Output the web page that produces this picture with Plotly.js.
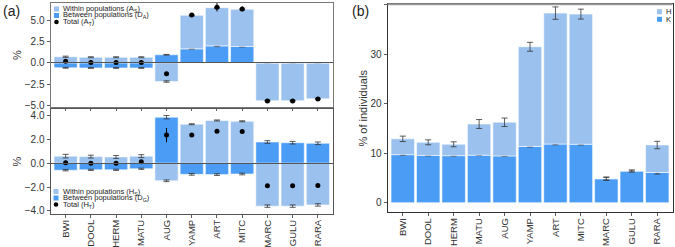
<!DOCTYPE html>
<html>
<head>
<meta charset="utf-8">
<script src="https://cdn.plot.ly/plotly-3.0.1.min.js"></script>
<style>html,body{margin:0;padding:0;background:#fff}#chart{width:675px;height:247px}</style>
</head>
<body>
<div id="chart"></div>
<script>
// ---------- data ----------
const categories = ['BWI','DOOL','HERM','MATU','AUG','YAMP','ART','MITC','MARC','GULU','RARA'];

// (a) top: allelic richness components
const withinA      = [0.72, 0.66, 0.66, 0.66, -2.20, 3.95, 4.50, 4.37, -4.40, -4.40, -4.18];
const withinA_err  = [0.07, 0.06, 0.06, 0.06, 0.08, 0.05, 0.06, 0.05, 0.05, 0.05, 0.05];
const betweenA     = [-0.58, -0.60, -0.60, -0.60, 0.95, 1.65, 2.00, 1.93, -0.05, -0.05, -0.05];
const betweenA_err = [0.05, 0.05, 0.05, 0.05, 0.04, 0.05, 0.08, 0.05, 0.03, 0.03, 0.03];
const totalA       = [0.20, 0.05, 0.05, 0.05, -1.28, 5.65, 6.55, 6.35, -4.50, -4.50, -4.27];
const totalA_err   = [0.10, 0.08, 0.08, 0.08, 0.10, 0.15, 0.50, 0.30, 0.08, 0.08, 0.08];

// (a) bottom: heterozygosity components
const withinH      = [0.60, 0.56, 0.53, 0.60, -1.47, 3.28, 3.60, 3.53, -3.60, -3.60, -3.50];
const withinH_err  = [0.15, 0.12, 0.12, 0.12, 0.07, 0.04, 0.04, 0.04, 0.10, 0.10, 0.10];
const betweenH     = [-0.58, -0.55, -0.55, -0.46, 3.87, -0.93, -0.95, -0.90, 1.79, 1.73, 1.68];
const betweenH_err = [0.06, 0.05, 0.05, 0.05, 0.14, 0.07, 0.07, 0.07, 0.11, 0.11, 0.11];
const totalH       = [0.05, 0.00, 0.00, 0.12, 2.37, 2.37, 2.69, 2.66, -1.88, -1.88, -1.87];
const totalH_err   = [0.15, 0.12, 0.12, 0.15, 0.60, 0.05, 0.05, 0.05, 0.05, 0.05, 0.05];

// (b) % of individuals
const valH   = [12.9, 12.2, 11.8, 15.9, 16.25, 31.5, 38.3, 38.1, 4.85, 6.4, 11.65];
const errH   = [0.55, 0.50, 0.50, 0.90, 0.85, 0.90, 1.25, 1.00, 0.30, 0.20, 0.75];
const valK   = [9.7, 9.55, 9.5, 9.6, 9.45, 11.35, 11.85, 11.8, 4.85, 6.4, 6.1];
const errK   = [0.10, 0.08, 0.08, 0.08, 0.10, 0.10, 0.15, 0.12, 0.30, 0.15, 0.30];

// ---------- style ----------
const LIGHT = 'rgb(155,193,238)';
const DARK  = 'rgb(74,156,245)';
const TXT = '#333';
const FONT = 'Liberation Sans, Arial, sans-serif';
const W = 675, Ht = 247;
const fx = p => p / W;
const fy = p => 1 - p / Ht;

function barTrace(y, err, color, xa, ya, name) {
  return {
    type: 'bar', x: categories, y: y, name: name, xaxis: xa, yaxis: ya,
    width: 0.92, showlegend: false,
    marker: {color: color, line: {color: 'rgba(255,255,255,0.7)', width: 0.8}},
    error_y: {type: 'data', array: err, visible: true, color: '#333', thickness: 0.8, width: 3}
  };
}
function dotTrace(y, err, xa, ya, name) {
  return {
    type: 'scatter', mode: 'markers', x: categories, y: y, name: name, xaxis: xa, yaxis: ya,
    showlegend: false, cliponaxis: false,
    marker: {color: '#000', size: 5},
    error_y: {type: 'data', array: err, visible: true, color: '#000', thickness: 1, width: 0}
  };
}
const extraH = valH.map((v, i) => v - valK[i]);

const data = [
  barTrace(betweenA, betweenA_err, DARK, 'x', 'y', 'Between populations (DA)'),
  barTrace(withinA, withinA_err, LIGHT, 'x', 'y', 'Within populations (AS)'),
  dotTrace(totalA, totalA_err, 'x', 'y', 'Total (AT)'),
  barTrace(betweenH, betweenH_err, DARK, 'x2', 'y2', 'Between populations (DG)'),
  barTrace(withinH, withinH_err, LIGHT, 'x2', 'y2', 'Within populations (HS)'),
  dotTrace(totalH, totalH_err, 'x2', 'y2', 'Total (HT)'),
  barTrace(valK, errK, DARK, 'x3', 'y3', 'K'),
  barTrace(extraH, errH, LIGHT, 'x3', 'y3', 'H')
];

const tickFont = {family: FONT, size: 10, color: TXT};
const xTickFont = {family: FONT, size: 9.5, color: TXT};
function xax(domain, anchor, labels, lineColor) {
  return {
    domain: domain, anchor: anchor, type: 'category', range: [-0.6, 10.6],
    showline: true, mirror: true, linecolor: lineColor, linewidth: 1,
    ticks: 'outside', ticklen: 3, tickcolor: TXT, tickwidth: 0.8,
    showticklabels: labels, tickangle: -90, tickfont: xTickFont, ticklabelstandoff: -2,
    showgrid: false, zeroline: false, fixedrange: true, automargin: false
  };
}
function yax(domain, anchor, range, dtick, fmt, title, standoff, lineColor, zero) {
  return {
    domain: domain, anchor: anchor, range: range, dtick: dtick, tick0: 0, tickformat: fmt,
    showline: true, mirror: true, linecolor: lineColor, linewidth: 1,
    ticks: 'outside', ticklen: 3, tickcolor: TXT, tickwidth: 0.8, tickfont: tickFont,
    showgrid: false, zeroline: zero, zerolinecolor: '#555', zerolinewidth: 1,
    layer: 'above traces', zerolinelayer: 'above traces',
    title: {text: title, font: {family: FONT, size: 11, color: TXT}, standoff: standoff},
    fixedrange: true, automargin: false
  };
}

const xa = [fx(50.5), fx(333)];
const xb = [fx(387.5), fx(672.5)];

const layout = {
  width: W, height: Ht,
  margin: {l: 0, r: 0, t: 0, b: 0},
  paper_bgcolor: '#fff', plot_bgcolor: '#fff',
  font: {family: FONT, color: TXT},
  barmode: 'relative', bargap: 0,
  showlegend: false,
  xaxis: xax(xa, 'y', false, '#777'),
  yaxis: yax([fy(107), fy(3)], 'x', [-5.2, 7.05], 2.5, '.1f', '%', 0, '#777', true),
  xaxis2: xax(xa, 'y2', true, '#555'),
  yaxis2: yax([fy(214), fy(109)], 'x2', [-4.26, 4.56], 2, '.1f', '%', 0, '#555', true),
  xaxis3: xax(xb, 'y3', true, '#333'),
  yaxis3: yax([fy(212.3), fy(4.3)], 'x3', [-1.94, 40.08], 10, 'd', '% of individuals', 0, '#333', false),
  annotations: [],
  shapes: [
    {type: 'line', xref: 'paper', yref: 'paper', x0: xb[0], x1: xb[1], y0: fy(4.3), y1: fy(4.3),
     line: {color: '#999', width: 2}, layer: 'above'}
  ]
};

layout.annotations.push(
  {text: '(a)', xref: 'paper', yref: 'paper', x: fx(1), y: fy(1), xanchor: 'left', yanchor: 'top',
   showarrow: false, font: {family: FONT, size: 14, color: '#222'}},
  {text: '(b)', xref: 'paper', yref: 'paper', x: fx(350), y: fy(1), xanchor: 'left', yanchor: 'top',
   showarrow: false, font: {family: FONT, size: 14, color: '#222'}}
);

// manual legends
function legend(x0, rows) {
  rows.forEach(r => {
    const yc = r.y;
    if (r.kind === 'dot') {
      layout.shapes.push({type: 'circle', xref: 'paper', yref: 'paper',
        x0: fx(x0 + 0.2), x1: fx(x0 + 4.8), y0: fy(yc + 2.3), y1: fy(yc - 2.3),
        fillcolor: '#000', line: {width: 0}, layer: 'above'});
    } else {
      layout.shapes.push({type: 'rect', xref: 'paper', yref: 'paper',
        x0: fx(x0), x1: fx(x0 + 5), y0: fy(yc + 2.5), y1: fy(yc - 2.5),
        fillcolor: r.color, line: {width: 0}, layer: 'above'});
    }
    layout.annotations.push({text: r.text, xref: 'paper', yref: 'paper', x: fx(x0 + 7), y: fy(yc),
      xanchor: 'left', yanchor: 'middle', showarrow: false,
      font: {family: FONT, size: 7.5, color: '#222'}});
  });
}
legend(54, [
  {y: 9, color: LIGHT, text: 'Within populations (A<sub>S</sub>)'},
  {y: 15.5, color: DARK, text: 'Between populations (D<sub>A</sub>)'},
  {y: 22, kind: 'dot', text: 'Total (A<sub>T</sub>)'}
]);
legend(53.5, [
  {y: 191.5, color: LIGHT, text: 'Within populations (H<sub>S</sub>)'},
  {y: 198, color: DARK, text: 'Between populations (D<sub>G</sub>)'},
  {y: 204.5, kind: 'dot', text: 'Total (H<sub>T</sub>)'}
]);
legend(657, [
  {y: 11.7, color: LIGHT, text: 'H'},
  {y: 19.3, color: DARK, text: 'K'}
]);

Plotly.newPlot('chart', data, layout, {staticPlot: true, displayModeBar: false});
</script>
</body>
</html>
